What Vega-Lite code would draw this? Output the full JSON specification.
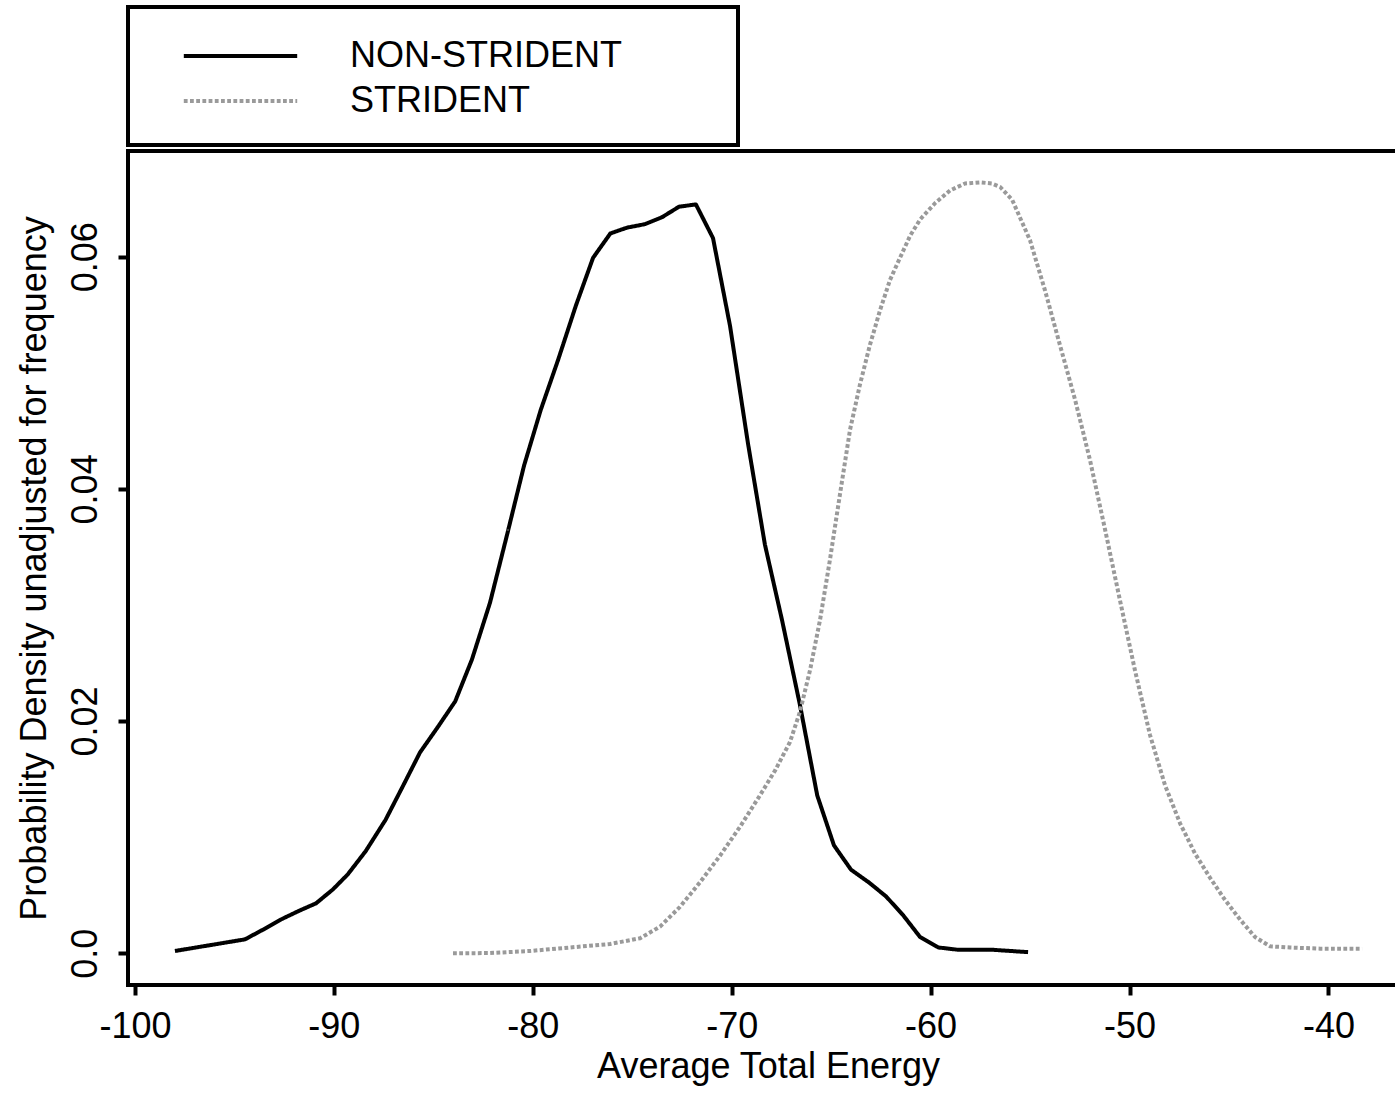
{
  "$schema": "https://vega.github.io/schema/vega-lite/v6.json",
  "width": 1280,
  "height": 834,
  "autosize": {"type": "none"},
  "padding": {"left": 128, "top": 151, "right": -13, "bottom": 118},
  "background": "white",
  "config": {
    "font": "Liberation Sans",
    "view": {"stroke": "black", "strokeWidth": 4},
    "axis": {
      "domain": false,
      "grid": false,
      "tickColor": "black",
      "tickWidth": 4,
      "tickSize": 10,
      "labelFont": "Liberation Sans",
      "labelFontSize": 36,
      "labelColor": "black",
      "titleFont": "Liberation Sans",
      "titleFontSize": 36,
      "titleFontWeight": "normal",
      "titleColor": "black"
    }
  },
  "data": {
    "values": [
      {"group": "NON-STRIDENT", "energy": -97.99, "density": 0.0002},
      {"group": "NON-STRIDENT", "energy": -96.23, "density": 0.0007},
      {"group": "NON-STRIDENT", "energy": -94.47, "density": 0.0012},
      {"group": "NON-STRIDENT", "energy": -93.6, "density": 0.002},
      {"group": "NON-STRIDENT", "energy": -92.56, "density": 0.003},
      {"group": "NON-STRIDENT", "energy": -91.7, "density": 0.0037},
      {"group": "NON-STRIDENT", "energy": -90.9, "density": 0.0043},
      {"group": "NON-STRIDENT", "energy": -90.05, "density": 0.0055},
      {"group": "NON-STRIDENT", "energy": -89.3, "density": 0.0068},
      {"group": "NON-STRIDENT", "energy": -88.4, "density": 0.0088},
      {"group": "NON-STRIDENT", "energy": -87.4, "density": 0.0115},
      {"group": "NON-STRIDENT", "energy": -86.5, "density": 0.0145},
      {"group": "NON-STRIDENT", "energy": -85.67, "density": 0.0173},
      {"group": "NON-STRIDENT", "energy": -84.77, "density": 0.0195},
      {"group": "NON-STRIDENT", "energy": -83.9, "density": 0.0217},
      {"group": "NON-STRIDENT", "energy": -83.06, "density": 0.0253},
      {"group": "NON-STRIDENT", "energy": -82.15, "density": 0.0302},
      {"group": "NON-STRIDENT", "energy": -81.3, "density": 0.036},
      {"group": "NON-STRIDENT", "energy": -80.44, "density": 0.042},
      {"group": "NON-STRIDENT", "energy": -79.6, "density": 0.0468},
      {"group": "NON-STRIDENT", "energy": -78.73, "density": 0.0511},
      {"group": "NON-STRIDENT", "energy": -77.83, "density": 0.0558},
      {"group": "NON-STRIDENT", "energy": -76.97, "density": 0.0599},
      {"group": "NON-STRIDENT", "energy": -76.1, "density": 0.062},
      {"group": "NON-STRIDENT", "energy": -75.26, "density": 0.0625},
      {"group": "NON-STRIDENT", "energy": -74.36, "density": 0.0628},
      {"group": "NON-STRIDENT", "energy": -73.5, "density": 0.0634},
      {"group": "NON-STRIDENT", "energy": -72.65, "density": 0.0643},
      {"group": "NON-STRIDENT", "energy": -71.8, "density": 0.0645},
      {"group": "NON-STRIDENT", "energy": -70.94, "density": 0.0616},
      {"group": "NON-STRIDENT", "energy": -70.08, "density": 0.054},
      {"group": "NON-STRIDENT", "energy": -69.18, "density": 0.0439},
      {"group": "NON-STRIDENT", "energy": -68.33, "density": 0.0352},
      {"group": "NON-STRIDENT", "energy": -67.47, "density": 0.0287},
      {"group": "NON-STRIDENT", "energy": -66.57, "density": 0.0214},
      {"group": "NON-STRIDENT", "energy": -65.7, "density": 0.0136},
      {"group": "NON-STRIDENT", "energy": -64.86, "density": 0.0093},
      {"group": "NON-STRIDENT", "energy": -64.0, "density": 0.0072},
      {"group": "NON-STRIDENT", "energy": -63.1, "density": 0.0061},
      {"group": "NON-STRIDENT", "energy": -62.24, "density": 0.0049},
      {"group": "NON-STRIDENT", "energy": -61.39, "density": 0.0033},
      {"group": "NON-STRIDENT", "energy": -60.53, "density": 0.0014},
      {"group": "NON-STRIDENT", "energy": -59.6, "density": 0.0005},
      {"group": "NON-STRIDENT", "energy": -58.6, "density": 0.0003},
      {"group": "NON-STRIDENT", "energy": -56.86, "density": 0.0003},
      {"group": "NON-STRIDENT", "energy": -55.1, "density": 0.0001},
      {"group": "STRIDENT", "energy": -84.01, "density": 0.0},
      {"group": "STRIDENT", "energy": -82.15, "density": 0.00002},
      {"group": "STRIDENT", "energy": -80.14, "density": 0.0002},
      {"group": "STRIDENT", "energy": -78.13, "density": 0.0005},
      {"group": "STRIDENT", "energy": -76.12, "density": 0.0008},
      {"group": "STRIDENT", "energy": -74.6, "density": 0.0013},
      {"group": "STRIDENT", "energy": -73.6, "density": 0.0023},
      {"group": "STRIDENT", "energy": -72.6, "density": 0.004},
      {"group": "STRIDENT", "energy": -71.6, "density": 0.0061},
      {"group": "STRIDENT", "energy": -70.59, "density": 0.0084},
      {"group": "STRIDENT", "energy": -69.58, "density": 0.0109},
      {"group": "STRIDENT", "energy": -68.58, "density": 0.0136},
      {"group": "STRIDENT", "energy": -67.8, "density": 0.0158},
      {"group": "STRIDENT", "energy": -67.07, "density": 0.0182},
      {"group": "STRIDENT", "energy": -66.57, "density": 0.0208},
      {"group": "STRIDENT", "energy": -66.06, "density": 0.0244},
      {"group": "STRIDENT", "energy": -65.56, "density": 0.0287},
      {"group": "STRIDENT", "energy": -65.06, "density": 0.0339},
      {"group": "STRIDENT", "energy": -64.56, "density": 0.0395},
      {"group": "STRIDENT", "energy": -64.05, "density": 0.0451},
      {"group": "STRIDENT", "energy": -63.55, "density": 0.049},
      {"group": "STRIDENT", "energy": -63.05, "density": 0.0524},
      {"group": "STRIDENT", "energy": -62.54, "density": 0.0554},
      {"group": "STRIDENT", "energy": -62.04, "density": 0.058},
      {"group": "STRIDENT", "energy": -61.54, "density": 0.0599},
      {"group": "STRIDENT", "energy": -61.03, "density": 0.0618},
      {"group": "STRIDENT", "energy": -60.53, "density": 0.0632},
      {"group": "STRIDENT", "energy": -59.78, "density": 0.0646},
      {"group": "STRIDENT", "energy": -59.02, "density": 0.0657},
      {"group": "STRIDENT", "energy": -58.27, "density": 0.0663},
      {"group": "STRIDENT", "energy": -57.52, "density": 0.0664},
      {"group": "STRIDENT", "energy": -56.91, "density": 0.0663},
      {"group": "STRIDENT", "energy": -56.5, "density": 0.066},
      {"group": "STRIDENT", "energy": -55.9, "density": 0.0649},
      {"group": "STRIDENT", "energy": -55.0, "density": 0.0614},
      {"group": "STRIDENT", "energy": -54.25, "density": 0.0571},
      {"group": "STRIDENT", "energy": -53.5, "density": 0.0524},
      {"group": "STRIDENT", "energy": -52.74, "density": 0.0477},
      {"group": "STRIDENT", "energy": -51.99, "density": 0.0425},
      {"group": "STRIDENT", "energy": -51.23, "density": 0.0365},
      {"group": "STRIDENT", "energy": -50.48, "density": 0.0304},
      {"group": "STRIDENT", "energy": -49.73, "density": 0.0244},
      {"group": "STRIDENT", "energy": -48.97, "density": 0.0188},
      {"group": "STRIDENT", "energy": -48.22, "density": 0.0145},
      {"group": "STRIDENT", "energy": -47.46, "density": 0.0112},
      {"group": "STRIDENT", "energy": -46.71, "density": 0.0086},
      {"group": "STRIDENT", "energy": -45.95, "density": 0.0065},
      {"group": "STRIDENT", "energy": -45.2, "density": 0.0046},
      {"group": "STRIDENT", "energy": -44.44, "density": 0.0029},
      {"group": "STRIDENT", "energy": -43.69, "density": 0.0014},
      {"group": "STRIDENT", "energy": -42.93, "density": 0.0006},
      {"group": "STRIDENT", "energy": -41.93, "density": 0.0005},
      {"group": "STRIDENT", "energy": -40.42, "density": 0.0004},
      {"group": "STRIDENT", "energy": -38.31, "density": 0.0004}
    ]
  },
  "mark": {"type": "line", "strokeWidth": 4, "strokeCap": "butt", "strokeJoin": "round"},
  "encoding": {
    "x": {
      "field": "energy",
      "type": "quantitative",
      "scale": {"domain": [-100.35, -36.0], "nice": false, "zero": false},
      "axis": {
        "title": "Average Total Energy",
        "values": [-100, -90, -80, -70, -60, -50, -40],
        "labelExpr": "toString(datum.value)",
        "labelBaseline": "top",
        "labelPadding": 14,
        "titleBaseline": "alphabetic",
        "titlePadding": 33
      }
    },
    "y": {
      "field": "density",
      "type": "quantitative",
      "scale": {"domain": [-0.00273, 0.0691], "nice": false, "zero": false},
      "axis": {
        "title": "Probability Density unadjusted for frequency",
        "values": [0, 0.02, 0.04, 0.06],
        "labelExpr": "datum.value == 0 ? '0.0' : format(datum.value, '.2f')",
        "labelAngle": -90,
        "labelAlign": "center",
        "labelBaseline": "alphabetic",
        "labelPadding": 22,
        "titleBaseline": "alphabetic",
        "titlePadding": 22
      }
    },
    "color": {
      "field": "group",
      "type": "nominal",
      "scale": {"domain": ["NON-STRIDENT", "STRIDENT"], "range": ["#000000", "#9a9a9a"]},
      "legend": {
        "title": null,
        "orient": "none",
        "legendX": 0,
        "legendY": -144,
        "direction": "vertical",
        "padding": 26,
        "strokeColor": "black",
        "fillColor": "white",
        "symbolType": "M-2.7,0H2.7M22.03,0",
        "symbolSize": 1764,
        "symbolStrokeWidth": 4,
        "symbolOffset": 63.5,
        "labelOffset": 86.5,
        "labelFontSize": 36,
        "labelFont": "Liberation Sans",
        "labelColor": "black",
        "labelBaseline": "middle",
        "labelLimit": 1000,
        "rowPadding": 4,
        "encode": {
          "legend": {"update": {"strokeWidth": {"value": 4}}}
        }
      }
    },
    "strokeDash": {
      "field": "group",
      "type": "nominal",
      "scale": {"domain": ["NON-STRIDENT", "STRIDENT"], "range": [[1, 0], [3.8, 2.4]]},
      "legend": {
        "title": null,
        "orient": "none",
        "legendX": 0,
        "legendY": -144,
        "direction": "vertical",
        "padding": 26,
        "strokeColor": "black",
        "fillColor": "white",
        "symbolType": "M-2.7,0H2.7M22.03,0",
        "symbolSize": 1764,
        "symbolStrokeWidth": 4,
        "symbolOffset": 63.5,
        "labelOffset": 86.5,
        "labelFontSize": 36,
        "labelFont": "Liberation Sans",
        "labelColor": "black",
        "labelBaseline": "middle",
        "labelLimit": 1000,
        "rowPadding": 4,
        "encode": {
          "legend": {"update": {"strokeWidth": {"value": 4}}}
        }
      }
    }
  }
}
